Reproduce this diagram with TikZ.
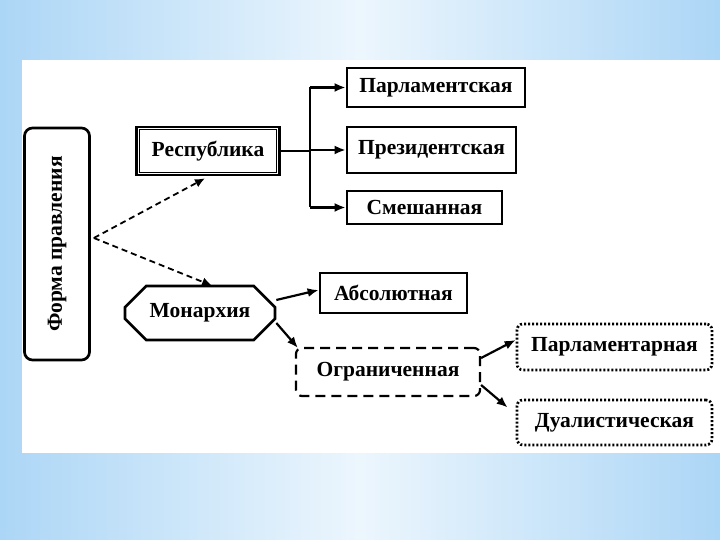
\documentclass[tikz,border=0pt]{standalone}
\usepackage{fontspec}
\setmainfont{Liberation Serif}
\usetikzlibrary{calc,shapes.misc,arrows.meta}

\definecolor{bgedge}{RGB}{172,214,246}
\definecolor{bgmid}{RGB}{236,246,253}

\begin{document}
\begin{tikzpicture}[x=1pt, y=1pt,
  lbl/.style={font=\fontsize{21.5}{24}\selectfont\bfseries, inner sep=0pt},
  solidbox/.style={lbl, draw, line width=2.7pt},
  dashbox/.style={lbl, draw, line width=2.2pt, dash pattern=on 10pt off 6pt, rounded corners=6pt},
  dotbox/.style={lbl, draw, line width=2.7pt, dash pattern=on 2pt off 2pt, rounded corners=6pt},
  link/.style={line width=2.2pt, -{Latex[length=11pt,width=9pt]}},
  dlink/.style={line width=1.8pt, -{Latex[length=10pt,width=9pt]}, dash pattern=on 6pt off 4pt}]
  \useasboundingbox (0,0) rectangle (720,540);
  \shade[left color=bgedge, right color=bgedge, middle color=bgmid] (0,0) rectangle (720,540);
  \fill[white] (22,87) rectangle (720,480);
  % left root
  \node[solidbox, rotate=90, rounded corners=8pt, minimum width=232pt, minimum height=65pt] (forma) at (57,296) {Форма правления};
  % republic branch
  \node[solidbox, minimum width=143pt, minimum height=48pt] (resp) at (208,389) {Республика};
  \draw[line width=0.8pt] ($(resp.north west)+(4,-4)$) rectangle ($(resp.south east)+(-4,4)$);
  \node[solidbox, minimum width=178pt, minimum height=39pt] (parl) at (436,452.5) {Парламентская};
  \node[solidbox, minimum width=169pt, minimum height=46pt] (pres) at (431.5,390) {Президентская};
  \node[solidbox, minimum width=155pt, minimum height=33pt] (mix) at (424.5,332.5) {Смешанная};
  \draw[line width=2.2pt] (resp.east) -- (310,389) coordinate (fork);
  \draw[line width=2.2pt] (fork |- parl) -- (fork |- mix);
  \draw[link] (fork |- parl) -- (parl.west);
  \draw[link] (fork |- pres) -- (pres.west);
  \draw[link] (fork |- mix) -- (mix.west);
  % monarchy branch
  \node[lbl, draw, line width=2.7pt, chamfered rectangle, chamfered rectangle xsep=11pt, chamfered rectangle ysep=12pt, minimum width=150pt, minimum height=54pt] (mon) at (200,227) {Монархия};
  \node[solidbox, minimum width=147pt, minimum height=40pt] (abs) at (393.5,247) {Абсолютная};
  \node[dashbox, minimum width=184pt, minimum height=48pt] (lim) at (388,168) {Ограниченная};
  \node[dotbox, minimum width=195pt, minimum height=46pt] (parlm) at (614.5,193) {Парламентарная};
  \node[dotbox, minimum width=195pt, minimum height=45pt] (dual) at (614.5,117.5) {Дуалистическая};
  \coordinate (src) at ($(forma.south)+(3,6)$);
  \draw[dlink] (src) -- ($(resp.south)+(-3,-2)$);
  \draw[dlink] (src) -- ($(mon.north)+(12,-1)$);
  \draw[link] ($(mon.east)+(0,13)$) -- ($(abs.west)+(0,3)$);
  \draw[link] ($(mon.east)+(0,-10)$) -- ($(lim.north west)+(3,-1)$);
  \draw[link] ($(lim.east)+(0,14)$) -- ($(parlm.west)+(0,7)$);
  \draw[link] ($(lim.east)+(0,-13)$) -- ($(dual.west)+(-8,15)$);
\end{tikzpicture}
\end{document}
